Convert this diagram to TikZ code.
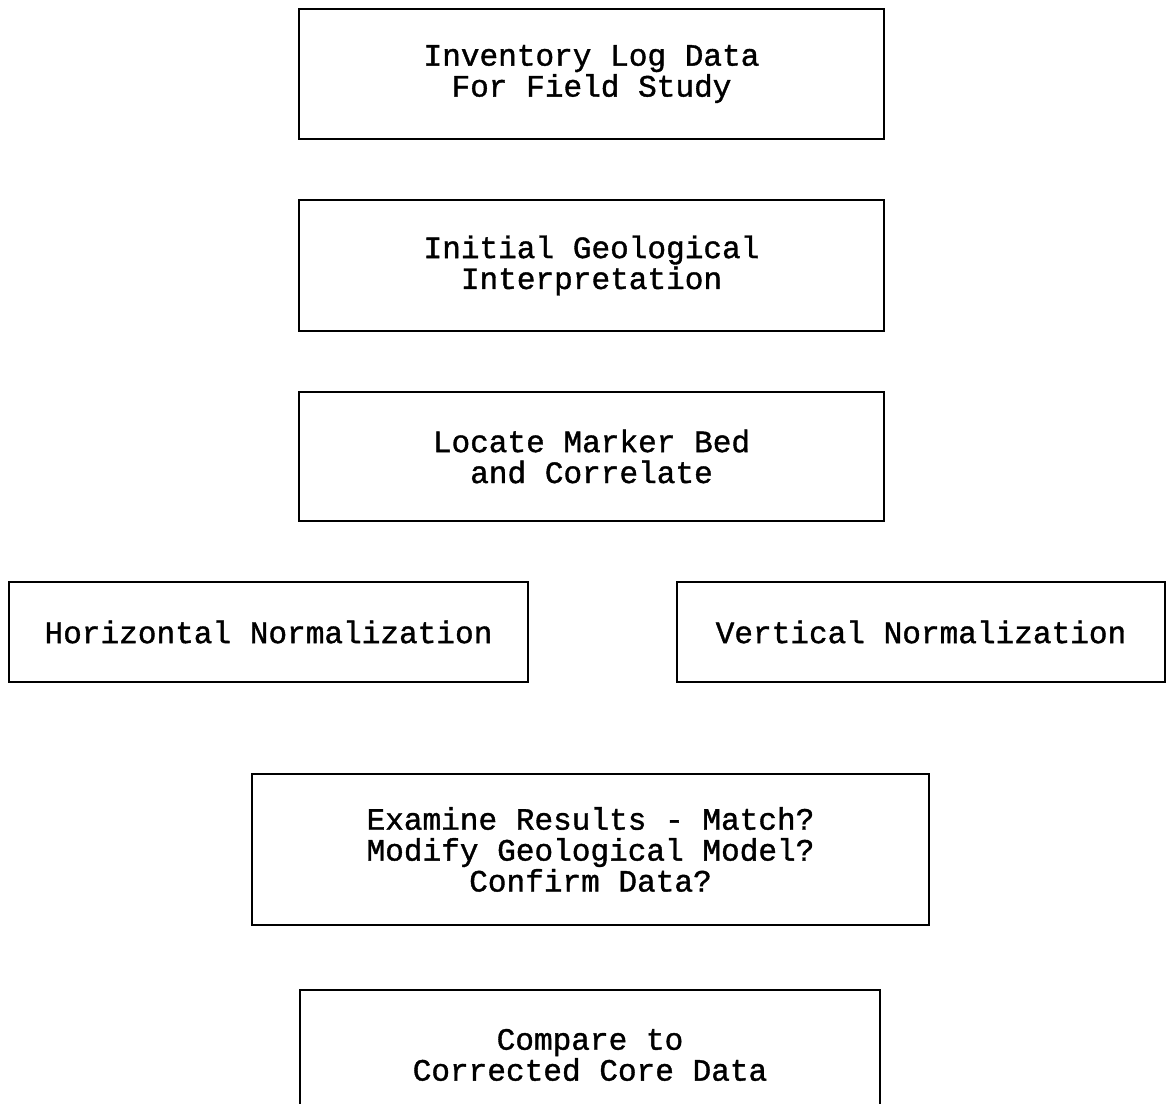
\documentclass[tikz,border=0pt]{standalone}
\usepackage{fontspec}
\setmonofont[FakeBold=1.2]{Liberation Mono}
\usepackage{tikz}

\tikzset{
  stage/.style={draw, line width=1.1pt, rectangle, align=center, inner sep=0pt,
    font=\ttfamily\fontsize{17.7}{17.6}\selectfont},
}

\begin{document}
\begin{tikzpicture}[x=0.02cm, y=-0.02cm]
\useasboundingbox (0,0) rectangle (1167,1104);

\node[stage, minimum width=585*0.02cm, minimum height=130*0.02cm] (inventory) at (591.5,74) {Inventory Log Data\\For Field Study};
\node[stage, minimum width=585*0.02cm, minimum height=131*0.02cm] (initial) at (591.5,265.5) {Initial Geological\\Interpretation};
\node[stage, minimum width=585*0.02cm, minimum height=129*0.02cm] (marker) at (591.5,456.5) {Locate Marker Bed\\and Correlate};

\node[stage, minimum width=519*0.02cm, minimum height=100*0.02cm] (horiz) at (268.5,632) {Horizontal Normalization};
\node[stage, minimum width=488*0.02cm, minimum height=100*0.02cm] (vert) at (921,632) {Vertical Normalization};

\node[stage, minimum width=677*0.02cm, minimum height=151*0.02cm] (examine) at (590.5,849.5) {Examine Results - Match?\\Modify Geological Model?\\Confirm Data?};
\node[stage, minimum width=580*0.02cm, minimum height=130*0.02cm] (compare) at (590,1055) {Compare to\\Corrected Core Data};
\end{tikzpicture}
\end{document}
